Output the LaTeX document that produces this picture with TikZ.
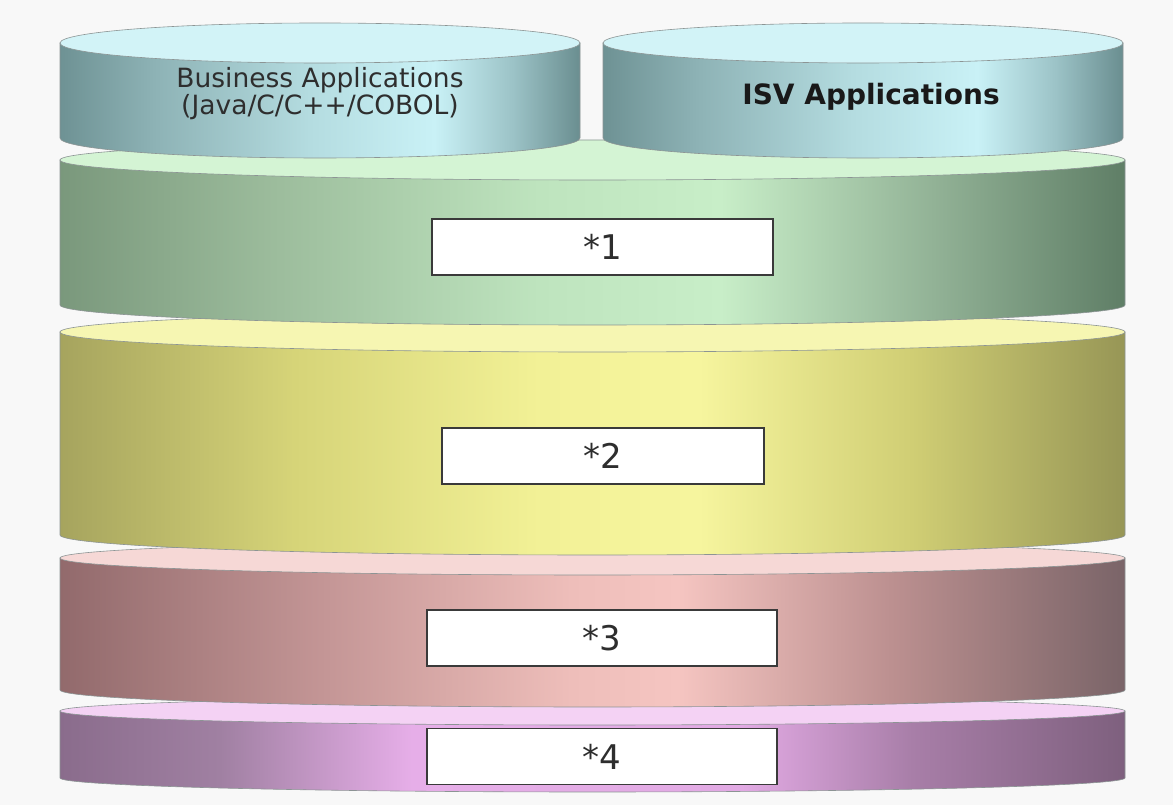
\documentclass[tikz,border=0pt]{standalone}
\usepackage{fontspec}
\setmainfont{DejaVu Sans}
\definecolor{bgc}{HTML}{F8F8F8}
\definecolor{edgegray}{HTML}{8C9494}
% cyan
\definecolor{cyA}{HTML}{6E9294}
\definecolor{cyB}{HTML}{8DB2B5}
\definecolor{cyC}{HTML}{B4DCE0}
\definecolor{cyD}{HTML}{C9F1F6}
\definecolor{cyE}{HTML}{9CC3C7}
\definecolor{cyF}{HTML}{6A8E90}
\definecolor{cyTop}{HTML}{D2F3F7}
% green
\definecolor{grA}{HTML}{7A987C}
\definecolor{grB}{HTML}{9CBC9C}
\definecolor{grC}{HTML}{BEE4BE}
\definecolor{grD}{HTML}{C8EEC8}
\definecolor{grE}{HTML}{92B296}
\definecolor{grF}{HTML}{5F7E66}
\definecolor{grTop}{HTML}{D4F4D4}
% yellow
\definecolor{yeA}{HTML}{A6A45E}
\definecolor{yeB}{HTML}{D6D478}
\definecolor{yeC}{HTML}{F2F196}
\definecolor{yeD}{HTML}{F6F59E}
\definecolor{yeE}{HTML}{D0CE74}
\definecolor{yeF}{HTML}{979656}
\definecolor{yeTop}{HTML}{F6F6B2}
% pink
\definecolor{piA}{HTML}{926A6C}
\definecolor{piB}{HTML}{C49696}
\definecolor{piC}{HTML}{EEBEBA}
\definecolor{piD}{HTML}{F5C5C1}
\definecolor{piE}{HTML}{BC9090}
\definecolor{piF}{HTML}{7A6468}
\definecolor{piTop}{HTML}{F6D8D6}
% purple
\definecolor{puA}{HTML}{8A6C8C}
\definecolor{puB}{HTML}{A080A2}
\definecolor{puC}{HTML}{E6AEE8}
\definecolor{puD}{HTML}{E2AAE4}
\definecolor{puE}{HTML}{A87EA8}
\definecolor{puF}{HTML}{7E607E}
\definecolor{puTop}{HTML}{F4D2F4}
\definecolor{boxline}{HTML}{3A3A3A}
\definecolor{txt}{HTML}{2E2E2E}

% the path's bounding box is mapped onto 25bp..75bp of the shading
\pgfdeclarehorizontalshading{cyanbody}{100bp}{color(0bp)=(cyA); color(25bp)=(cyA); color(34bp)=(cyB); color(49bp)=(cyC); color(61bp)=(cyD); color(68.5bp)=(cyE); color(75bp)=(cyF); color(100bp)=(cyF)}
\pgfdeclarehorizontalshading{greenbody}{100bp}{color(0bp)=(grA); color(25bp)=(grA); color(35bp)=(grB); color(47.5bp)=(grC); color(56bp)=(grD); color(66bp)=(grE); color(75bp)=(grF); color(100bp)=(grF)}
\pgfdeclarehorizontalshading{yellowbody}{100bp}{color(0bp)=(yeA); color(25bp)=(yeA); color(36bp)=(yeB); color(47.5bp)=(yeC); color(55bp)=(yeD); color(65bp)=(yeE); color(75bp)=(yeF); color(100bp)=(yeF)}
\pgfdeclarehorizontalshading{pinkbody}{100bp}{color(0bp)=(piA); color(25bp)=(piA); color(37.5bp)=(piB); color(49bp)=(piC); color(54bp)=(piD); color(64bp)=(piE); color(75bp)=(piF); color(100bp)=(piF)}
\pgfdeclarehorizontalshading{purplebody}{100bp}{color(0bp)=(puA); color(25bp)=(puA); color(32.5bp)=(puB); color(41.5bp)=(puC); color(57bp)=(puD); color(65bp)=(puE); color(75bp)=(puF); color(100bp)=(puF)}

% x1, x2, ytop-centre, ybottom-centre (pixel rows), ry, shading, top colour
\newcommand\stackdisk[7]{%
  \pgfmathsetmacro\rxv{(#2-#1)/2}%
  \pgfmathsetmacro\cxv{(#2+#1)/2}%
  \pgfmathsetmacro\ytv{805-#3}%
  \pgfmathsetmacro\ybv{805-#4}%
  \shade[shading=#6, draw=edgegray, line width=0.6pt]
    (#1,\ytv) -- (#1,\ybv) arc[start angle=180,end angle=360,x radius=\rxv,y radius=#5] -- (#2,\ytv) -- cycle;
  \filldraw[fill=#7, draw=edgegray, line width=0.6pt] (\cxv,\ytv) ellipse[x radius=\rxv, y radius=#5];
}

\tikzset{
  labelbox/.style={draw=boxline, line width=1.5pt, fill=white, inner sep=0pt,
    minimum height=56pt, font=\fontsize{34}{40}\selectfont, text=txt},
}

\begin{document}
\begin{tikzpicture}[x=1pt,y=1pt]
\useasboundingbox (0,0) rectangle (1173,805);
\fill[bgc] (0,0) rectangle (1173,805);

\stackdisk{60}{1125}{711}{778}{14}{purplebody}{puTop}
\stackdisk{60}{1125}{558}{690}{17}{pinkbody}{piTop}
\stackdisk{60}{1125}{332}{535}{20}{yellowbody}{yeTop}
\stackdisk{60}{1125}{160}{305}{20}{greenbody}{grTop}
\stackdisk{60}{580}{43}{138}{20}{cyanbody}{cyTop}
\stackdisk{603}{1123}{43}{138}{20}{cyanbody}{cyTop}

\node[align=center, text=txt, font=\fontsize{26.5}{27}\selectfont] (bizapp) at (320,805-94)
  {Business Applications\\(Java/C/C++/COBOL)};
\node[text=black!90, font=\bfseries\fontsize{28}{30}\selectfont] (isvapp) at (871,805-97) {ISV Applications};

\node[labelbox, minimum width=341pt] (l1) at (602.5,805-247) {*1};
\node[labelbox, minimum width=322pt] (l2) at (603,805-456) {*2};
\node[labelbox, minimum width=350pt] (l3) at (602,805-638) {*3};
\node[labelbox, minimum width=350pt] (l4) at (602,805-756.5) {*4};
\end{tikzpicture}
\end{document}
